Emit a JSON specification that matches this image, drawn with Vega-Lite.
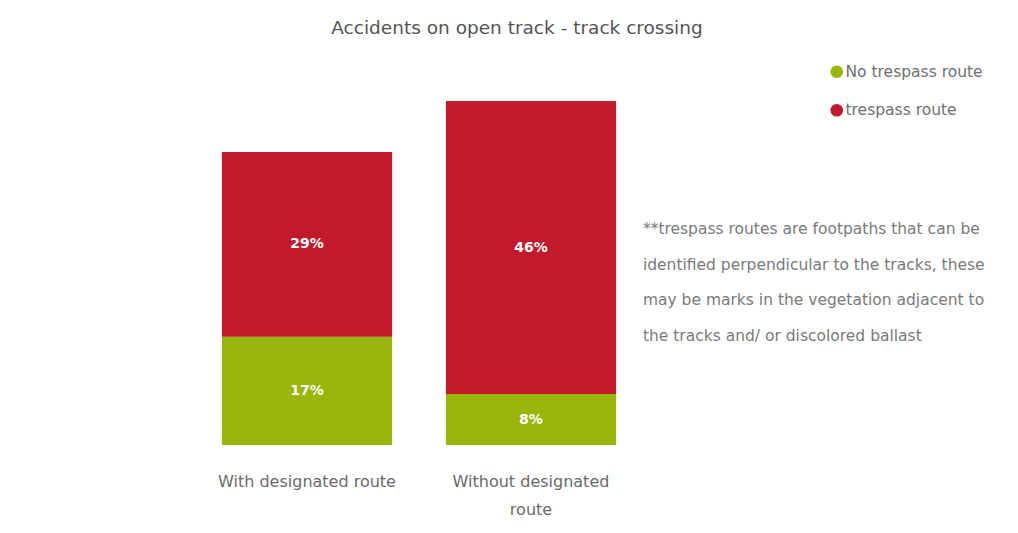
{
  "$schema": "https://vega.github.io/schema/vega-lite/v6.json",
  "autosize": {"type": "none"},
  "padding": {"left": 195, "top": 101, "right": 151, "bottom": 88},
  "width": 672,
  "height": 344,
  "background": "white",
  "config": {
    "view": {"stroke": null},
    "font": "DejaVu Sans"
  },
  "title": {
    "text": "Accidents on open track  - track crossing",
    "anchor": "middle",
    "dx": -14,
    "offset": 27,
    "fontSize": 18.5,
    "fontWeight": "normal",
    "color": "#555555",
    "font": "DejaVu Sans"
  },
  "layer": [
    {
      "data": {
        "values": [
          {"route": "With designated route", "series": "No trespass route", "value": 0.17},
          {"route": "With designated route", "series": "trespass route", "value": 0.29},
          {"route": "Without designated route", "series": "No trespass route", "value": 0.08},
          {"route": "Without designated route", "series": "trespass route", "value": 0.46}
        ]
      },
      "layer": [
        {
          "mark": {"type": "bar"},
          "encoding": {
            "x": {
              "field": "route",
              "type": "nominal",
              "scale": {"domain": ["With designated route", "Without designated route", "note"], "paddingInner": 0.24, "paddingOuter": 0.12},
              "axis": {
                "title": null,
                "domain": false,
                "ticks": false,
                "labelAngle": 0,
                "labelFontSize": 16,
                "labelColor": "#6a6a6a",
                "labelPadding": 28,
                "labelLineHeight": 28,
                "labelLimit": 400,
                "labelExpr": "datum.value == 'note' ? '' : (datum.value == 'Without designated route' ? ['Without designated', 'route'] : datum.value)"
              }
            },
            "y": {
              "field": "value",
              "type": "quantitative",
              "stack": "zero",
              "scale": {"domain": [0, 0.54], "nice": false},
              "axis": null
            },
            "color": {
              "field": "series",
              "type": "nominal",
              "scale": {"domain": ["No trespass route", "trespass route"], "range": ["#9AB50C", "#C01A2C"]},
              "legend": {
                "title": null,
                "orient": "none",
                "legendX": 634,
                "legendY": -37,
                "symbolType": "circle",
                "symbolSize": 160,
                "symbolOpacity": 1,
                "labelFontSize": 15.5,
                "labelColor": "#707070",
                "labelOffset": 1,
                "rowPadding": 21.5
              }
            },
            "order": {"field": "series", "sort": "ascending"}
          }
        },
        {
          "mark": {"type": "text", "color": "white", "fontWeight": "bold", "fontSize": 14, "baseline": "middle"},
          "encoding": {
            "x": {"field": "route", "type": "nominal"},
            "y": {"field": "value", "type": "quantitative", "stack": "zero", "bandPosition": 0.5},
            "detail": {"field": "series"},
            "order": {"field": "series", "sort": "ascending"},
            "text": {"field": "value", "type": "quantitative", "format": ".0%"}
          }
        }
      ]
    },
    {
      "data": {
        "values": [
          {"route": "note", "note": "**trespass routes are footpaths that can be\nidentified perpendicular to the tracks, these\nmay be marks in the vegetation adjacent to\nthe tracks and/ or discolored ballast"}
        ]
      },
      "mark": {"type": "text", "align": "left", "baseline": "top", "lineBreak": "\n", "lineHeight": 35.5, "fontSize": 15.5, "color": "#7a7a7a", "dx": -27, "dy": 0},
      "encoding": {
        "x": {"field": "route", "type": "nominal", "bandPosition": 0},
        "y": {"datum": 0.35, "type": "quantitative"},
        "text": {"field": "note"}
      }
    }
  ]
}
